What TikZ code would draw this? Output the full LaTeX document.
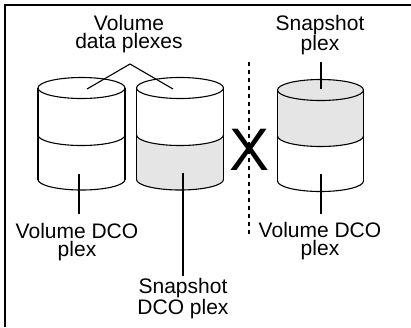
\documentclass[tikz,border=0pt]{standalone}
\usepackage{fontspec}
\setmainfont{Liberation Sans}
\tikzset{
  lbl/.style={inner sep=0pt, align=center, font=\fontsize{21}{18.5}\selectfont, anchor=north},
  lead/.style={line width=1.8pt},
  diag/.style={line width=1.1pt},
  outline/.style={line width=1.1pt},
  side/.style={line width=1.8pt},
  plexfill/.style={fill=gray!20},
}
\newcommand{\mycyl}[7]{% cx, top, mid, bot, rx, upperfill, lowerfill
  \fill[#6] (#1-#5,#2) -- (#1-#5,#3) arc[start angle=180,end angle=360,x radius=#5pt,y radius=10.5pt]
     -- (#1+#5,#2) arc[start angle=0,end angle=180,x radius=#5pt,y radius=10.5pt] -- cycle;
  \fill[#7] (#1-#5,#3) -- (#1-#5,#4) arc[start angle=180,end angle=360,x radius=#5pt,y radius=10.5pt]
     -- (#1+#5,#3) arc[start angle=0,end angle=-180,x radius=#5pt,y radius=10.5pt] -- cycle;
  \draw[outline] (#1,#2) ellipse[x radius=#5pt,y radius=10.5pt];
  \draw[outline] (#1-#5,#3) arc[start angle=180,end angle=360,x radius=#5pt,y radius=10.5pt];
  \draw[outline] (#1-#5,#4) arc[start angle=180,end angle=360,x radius=#5pt,y radius=10.5pt];
  \draw[side] (#1-#5,#2) -- (#1-#5,#4);
  \draw[side] (#1+#5,#2) -- (#1+#5,#4);
}
\begin{document}
\begin{tikzpicture}[x=1pt,y=-1pt]
\useasboundingbox (0,0) rectangle (411,327);
\draw[line width=2pt] (5,327) -- (5,5) -- (411,5);

\mycyl{81.5}{88}{135}{179.5}{43.5}{white}{white}
\mycyl{180}{88}{135}{179.5}{43.5}{white}{plexfill}
\mycyl{320.5}{90}{136}{181}{43}{plexfill}{white}

\node[lbl] (vdp) at (129,15) {Volume\\data plexes};
\node[lbl] (snp) at (320,15) {Snapshot\\plex};
\node[lbl] (vdco1) at (77,223) {Volume DCO\\plex};
\node[lbl] (vdco2) at (320,222) {Volume DCO\\plex};
\node[lbl] (sdco) at (183,278) {Snapshot\\DCO plex};
\node[inner sep=0pt, font=\fontsize{60}{60}\selectfont] (xmark) at (250,150) {X};

\coordinate (apex) at (130,64);
\coordinate (c1top) at (87,89);
\coordinate (c2top) at (173,89);
\draw[diag] (c1top) -- (apex) -- (c2top);

\coordinate (c3top) at (321,89);
\coordinate (c3lab) at (321,62);
\draw[lead] (c3top) -- (c3lab);
\coordinate (c1bot) at (79,174);
\coordinate (c1lab) at (79,214);
\draw[lead] (c1bot) -- (c1lab);
\coordinate (c2bot) at (183,173);
\coordinate (c2lab) at (183,276);
\draw[lead] (c2bot) -- (c2lab);
\coordinate (c3bot) at (321,174);
\coordinate (c3lab2) at (321,214);
\draw[lead] (c3bot) -- (c3lab2);

\coordinate (dtop) at (249,62);
\coordinate (dbot) at (249,236);
\draw[line width=1.8pt, dash pattern=on 4pt off 4pt] (dtop) -- (dbot);
\end{tikzpicture}
\end{document}
